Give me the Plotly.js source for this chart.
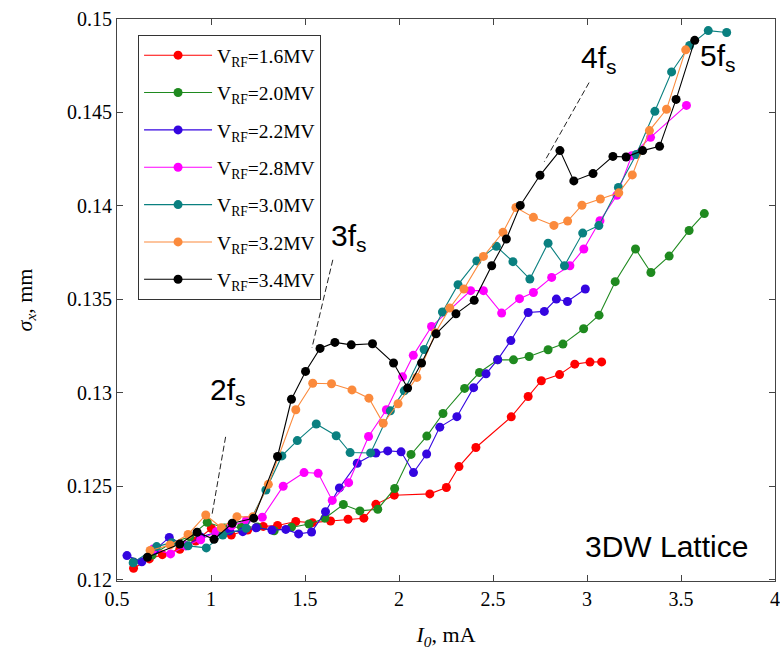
<!DOCTYPE html>
<html>
<head>
<meta charset="utf-8">
<script src="https://cdn.plot.ly/plotly-3.0.1.min.js"></script>
<style>html,body{margin:0;padding:0;background:#fff;}#chart{width:780px;height:658px;}</style>
</head>
<body>
<div id="chart"></div>
<script>
// ---- data ----
const seriesNames = ["V<sub>RF</sub>=1.6MV","V<sub>RF</sub>=2.0MV","V<sub>RF</sub>=2.2MV","V<sub>RF</sub>=2.8MV","V<sub>RF</sub>=3.0MV","V<sub>RF</sub>=3.2MV","V<sub>RF</sub>=3.4MV"];

const x16 = [0.588,0.672,0.741,0.834,0.919,1.002,1.108,1.195,1.278,1.354,1.451,1.539,1.636,1.729,1.813,1.877,1.975,2.164,2.252,2.319,2.409,2.597,2.687,2.757,2.854,2.935,3.016,3.078];
const y16 = [0.12062,0.12112,0.12135,0.12164,0.12208,0.12276,0.12240,0.12267,0.12286,0.12291,0.12312,0.12306,0.12315,0.12324,0.12330,0.12404,0.12453,0.12460,0.12494,0.12606,0.12708,0.12872,0.12981,0.13065,0.13098,0.13154,0.13165,0.13166];

const x20 = [0.588,0.687,0.791,0.887,0.980,1.072,1.162,1.246,1.336,1.428,1.521,1.606,1.704,1.792,1.887,1.977,2.064,2.148,2.234,2.349,2.428,2.525,2.609,2.692,2.793,2.872,2.982,3.064,3.150,3.258,3.340,3.437,3.543,3.624];
const y20 = [0.12096,0.12133,0.12198,0.12230,0.12308,0.12278,0.12283,0.12283,0.12263,0.12282,0.12299,0.12330,0.12403,0.12369,0.12378,0.12489,0.12671,0.12769,0.12890,0.13024,0.13109,0.13177,0.13177,0.13195,0.13231,0.13261,0.13343,0.13416,0.13595,0.13770,0.13644,0.13732,0.13869,0.13959];

const x22 = [0.553,0.632,0.702,0.778,0.866,0.945,1.028,1.099,1.169,1.240,1.324,1.398,1.466,1.535,1.609,1.683,1.778,1.877,1.940,2.011,2.077,2.147,2.217,2.308,2.397,2.463,2.525,2.595,2.687,2.773,2.837,2.896,2.991];
const y22 = [0.12130,0.12097,0.12160,0.12227,0.12182,0.12230,0.12253,0.12262,0.12258,0.12279,0.12267,0.12270,0.12246,0.12256,0.12365,0.12492,0.12624,0.12678,0.12690,0.12685,0.12574,0.12673,0.12817,0.12873,0.13028,0.13102,0.13178,0.13280,0.13430,0.13436,0.13502,0.13489,0.13556];

const x28 = [0.692,0.785,0.866,0.945,1.028,1.109,1.188,1.273,1.384,1.495,1.570,1.645,1.732,1.838,1.933,2.019,2.076,2.173,2.381,2.449,2.546,2.641,2.715,2.812,2.909,2.983,3.069,3.159,3.238,3.338,3.529];
const y28 = [0.12165,0.12139,0.12182,0.12214,0.12258,0.12289,0.12318,0.12335,0.12501,0.12574,0.12570,0.12425,0.12520,0.12767,0.12910,0.13086,0.13201,0.13355,0.13547,0.13547,0.13427,0.13504,0.13537,0.13618,0.13680,0.13770,0.13921,0.14057,0.14269,0.14367,0.14538];

const x30 = [0.586,0.711,0.791,0.878,0.975,1.063,1.187,1.292,1.377,1.459,1.560,1.666,1.740,1.849,1.954,2.028,2.134,2.231,2.314,2.414,2.518,2.606,2.696,2.793,2.880,2.977,3.063,3.167,3.262,3.361,3.450,3.546,3.645,3.743];
const y30 = [0.12091,0.12178,0.12199,0.12182,0.12171,0.12240,0.12276,0.12481,0.12663,0.12745,0.12834,0.12771,0.12681,0.12679,0.12904,0.13011,0.13232,0.13433,0.13579,0.13706,0.13784,0.13702,0.13609,0.13801,0.13680,0.13855,0.13895,0.14099,0.14275,0.14506,0.14717,0.14858,0.14938,0.14928];

const x32 = [0.676,0.782,0.878,0.972,1.055,1.138,1.222,1.305,1.451,1.541,1.641,1.750,1.840,1.916,1.995,2.095,2.194,2.270,2.345,2.449,2.553,2.622,2.715,2.824,2.897,2.973,3.071,3.169,3.241,3.332,3.423,3.525];
const y32 = [0.12157,0.12187,0.12243,0.12347,0.12279,0.12338,0.12337,0.12511,0.12910,0.13052,0.13049,0.13016,0.12972,0.12838,0.12942,0.13083,0.13322,0.13454,0.13556,0.13730,0.13859,0.13992,0.13939,0.13896,0.13919,0.14004,0.14037,0.14070,0.14166,0.14403,0.14517,0.14835];

const x34 = [0.662,0.834,0.926,1.016,1.113,1.227,1.354,1.428,1.503,1.580,1.659,1.746,1.859,1.971,2.046,2.120,2.197,2.303,2.400,2.493,2.571,2.645,2.750,2.856,2.930,3.032,3.138,3.208,3.296,3.386,3.474,3.573];
const y34 = [0.12121,0.12192,0.12255,0.12217,0.12303,0.12330,0.12660,0.12966,0.13115,0.13238,0.13270,0.13257,0.13263,0.13160,0.13026,0.13160,0.13316,0.13423,0.13495,0.13680,0.13823,0.14003,0.14164,0.14296,0.14134,0.14173,0.14265,0.14262,0.14296,0.14319,0.14570,0.14886];

const xTickVals = [0.5,1,1.5,2,2.5,3,3.5,4];
const xTickText = ["0.5","1","1.5","2","2.5","3","3.5","4"];
const yTickVals = [0.12,0.125,0.13,0.135,0.14,0.145,0.15];
const yTickText = ["0.12","0.125","0.13","0.135","0.14","0.145","0.15"];

// ---- styling ----
const colors = ["#ff0000","#1f8a1f","#3405e0","#ff00ff","#0a8080","#fb8a3c","#000000"];
const xs = [x16,x20,x22,x28,x30,x32,x34];
const ys = [y16,y20,y22,y28,y30,y32,y34];

const traces = xs.map((x,i)=>({
  type:"scatter", mode:"lines+markers",
  x:x, y:ys[i], name:seriesNames[i], legendgroup:"g"+i,
  line:{color:colors[i], width:1.1},
  marker:{color:colors[i], size:9, line:{width:0}}
}));

const serif = "Liberation Serif, Times New Roman, serif";
const sans = "Liberation Sans, Arial, sans-serif";

function ann(text,x,y,size){
  return {text:text, x:x, y:y, xref:"x", yref:"y", showarrow:false,
    font:{family:sans, size:size, color:"#000"}, xanchor:"center", yanchor:"middle"};
}
function dash(x0,y0,x1,y1){
  return {type:"line", xref:"x", yref:"y", x0:x0, y0:y0, x1:x1, y1:y1,
    line:{color:"#222", width:1, dash:"6px,3px"}};
}

const layout = {
  width:780, height:658,
  margin:{l:117, r:5, t:19, b:77},
  paper_bgcolor:"#ffffff", plot_bgcolor:"#ffffff",
  showlegend:true,
  legend:{x:0.032, y:0.9715, xanchor:"left", yanchor:"top",
    bgcolor:"#ffffff", bordercolor:"#333", borderwidth:1, itemwidth:68,
    font:{family:serif, size:19.5, color:"#000"}, tracegroupgap:9},
  xaxis:{range:[0.5,4], tickvals:xTickVals, ticktext:xTickText, ticklabeloverflow:"allow",
    ticks:"inside", ticklen:6, tickcolor:"#444", showline:true, linecolor:"#444", linewidth:1,
    mirror:"allticks", showgrid:false, zeroline:false,
    tickfont:{family:serif, size:20, color:"#000"},
    title:{text:"<i>I<sub>0</sub></i>, mA", font:{family:serif, size:22, color:"#000"}, standoff:17}},
  yaxis:{range:[0.11994,0.15], tickvals:yTickVals, ticktext:yTickText,
    ticks:"inside", ticklen:6, tickcolor:"#444", showline:true, linecolor:"#444", linewidth:1,
    mirror:"allticks", showgrid:false, zeroline:false,
    tickfont:{family:serif, size:20, color:"#000"},
    title:{text:"<i>σ<sub>x</sub></i>, mm", font:{family:serif, size:22, color:"#000"}, standoff:28}},
  annotations:[
    ann("2f<sub>s</sub>",1.093,0.13010,30),
    ann("3f<sub>s</sub>",1.7325,0.13830,30),
    ann("4f<sub>s</sub>",3.065,0.14783,30),
    ann("5f<sub>s</sub>",3.6976,0.14794,30),
    ann("3DW Lattice",3.4229,0.12180,30)
  ],
  shapes:[
    dash(1.0777,0.12765,1.0034,0.12338),
    dash(1.6479,0.13712,1.5370,0.13241),
    dash(3.0111,0.14660,2.7732,0.14237)
  ]
};

Plotly.newPlot("chart", traces, layout, {staticPlot:true, displayModeBar:false});
</script>
</body>
</html>
